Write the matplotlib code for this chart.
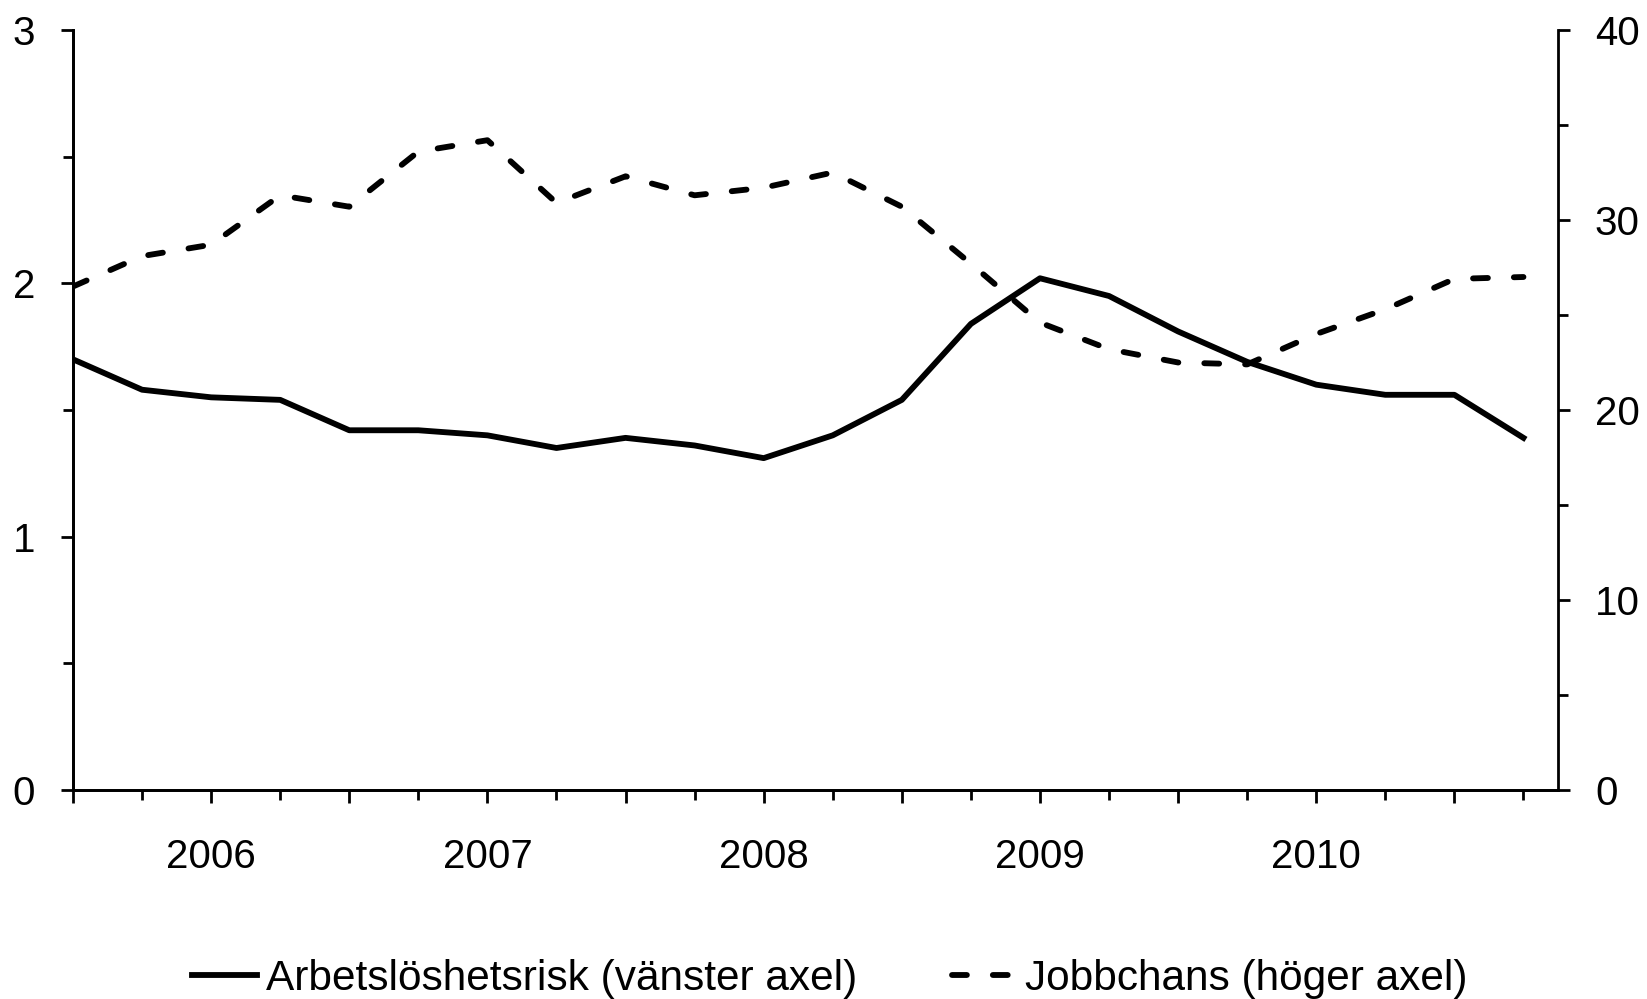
import numpy as np
import matplotlib
matplotlib.use("Agg")
import matplotlib.pyplot as plt

plt.rcParams['font.family'] = ['Liberation Sans', 'DejaVu Sans']

# Quarterly data, 2005 Q3 - 2010 Q4
quarters = ["2005K3", "2005K4",
            "2006K1", "2006K2", "2006K3", "2006K4",
            "2007K1", "2007K2", "2007K3", "2007K4",
            "2008K1", "2008K2", "2008K3", "2008K4",
            "2009K1", "2009K2", "2009K3", "2009K4",
            "2010K1", "2010K2", "2010K3", "2010K4"]
arbetsloshetsrisk = [1.70, 1.58, 1.55, 1.54, 1.42, 1.42, 1.40, 1.35, 1.39, 1.36, 1.31,
                     1.40, 1.54, 1.84, 2.02, 1.95, 1.81, 1.69, 1.60, 1.56, 1.56, 1.39]
jobbchans = [26.5, 28.1, 28.7, 31.3, 30.7, 33.6, 34.2, 30.9, 32.3, 31.3, 31.7,
             32.5, 30.7, 27.7, 24.6, 23.2, 22.5, 22.4, 24.0, 25.3, 26.9, 27.0]
year_labels = {"2006K1": "2006", "2007K1": "2007", "2008K1": "2008",
               "2009K1": "2009", "2010K1": "2010"}

x = np.arange(len(quarters))

fig = plt.figure(figsize=(16.47, 9.99), dpi=100)
ax = fig.add_axes([73 / 1647, 1 - 790 / 999, (1558 - 73) / 1647, (790 - 30) / 999])
ax2 = ax.twinx()

lw = 4.2
l1, = ax.plot(x, arbetsloshetsrisk, color="black", lw=lw, solid_joinstyle="round")
l2, = ax2.plot(x, jobbchans, color="black", lw=lw, linestyle=(0, (2.55, 4.45)),
               dash_capstyle="round", solid_joinstyle="round")

ax.set_xlim(0, 21.5)
ax.set_ylim(0, 3)
ax2.set_ylim(0, 40)

ax.set_yticks([0, 1, 2, 3])
ax.set_yticks(np.arange(0, 3.01, 0.5), minor=True)
ax2.set_yticks([0, 10, 20, 30, 40])
ax2.set_yticks(np.arange(0, 40.1, 5), minor=True)

major_x = x[::2]
ax.set_xticks(major_x)
ax.set_xticklabels([year_labels.get(quarters[i], "") for i in major_x])
ax.set_xticks(x[1::2], minor=True)

for a in (ax, ax2):
    a.spines["top"].set_visible(False)
    for s in a.spines.values():
        s.set_linewidth(2.0)
ax.spines["right"].set_visible(False)

ax.tick_params(axis="y", which="major", length=8.6, width=2.0, pad=18.5, labelsize=29, direction="out")
ax.tick_params(axis="y", which="minor", length=7.2, width=2.0, direction="out")
ax2.tick_params(axis="y", which="major", length=8.6, width=2.0, pad=18, labelsize=29, direction="out")
ax2.tick_params(axis="y", which="minor", length=7.2, width=2.0, direction="out")
ax.tick_params(axis="x", which="major", length=9.4, width=2.0, pad=25, labelsize=29, direction="out")
ax.tick_params(axis="x", which="minor", length=7.2, width=2.0, direction="out")

fig.legend([l1, l2], ["Arbetslöshetsrisk (vänster axel)", "Jobbchans (höger axel)"],
           loc="center", bbox_to_anchor=(0.504, 0.02), ncol=2, frameon=False,
           fontsize=30.5, handlelength=1.53, handletextpad=0.2, columnspacing=2.24,
           borderpad=0, borderaxespad=0)

fig.savefig("out.png", dpi=100)
